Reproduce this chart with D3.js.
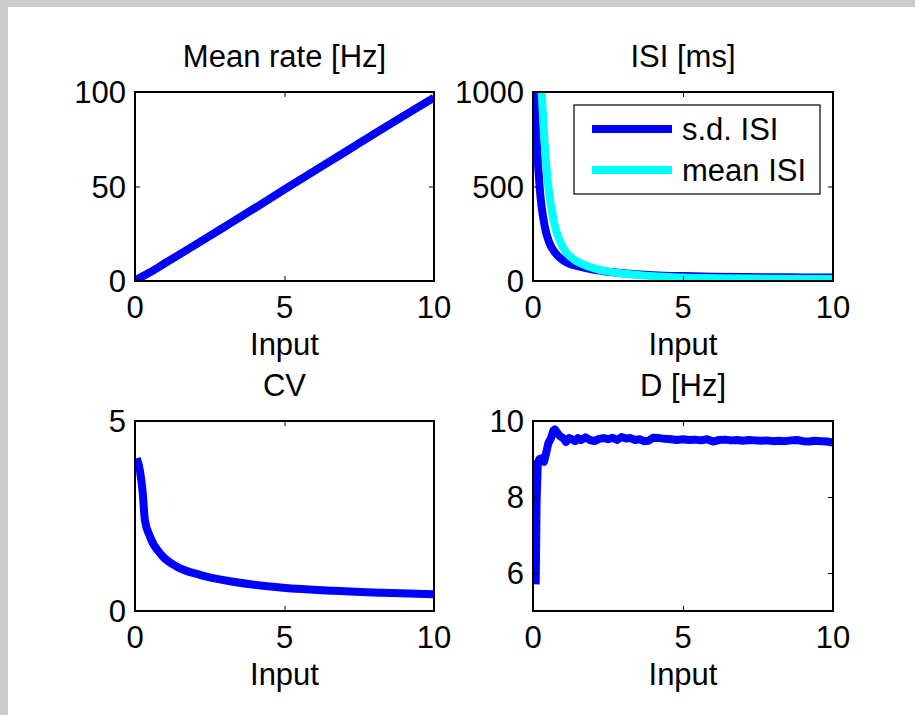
<!DOCTYPE html>
<html>
<head>
<meta charset="utf-8">
<script src="https://cdn.jsdelivr.net/npm/d3@7"></script>
<style>
  html, body { margin: 0; padding: 0; background: #fff; }
  svg text { font-family: "Liberation Sans", Arial, Helvetica, sans-serif; fill: #000; }
</style>
</head>
<body>
<svg id="fig" width="915" height="715"></svg>
<script>

// ---- data ----
const rateInput = [0, 0.5, 1, 2, 3, 4, 5, 6, 7, 8, 9, 10];
const rateHz = [0.3, 4.6, 9.4, 19, 28.7, 38.5, 48.5, 58.3, 68, 77.8, 87.5, 97];

const sdIsiInput = [0.03, 0.06, 0.14, 0.22, 0.39, 0.55, 0.73, 1.0, 1.17, 1.5, 2.0, 2.44, 3, 4, 5, 6, 7, 8, 9, 10];
const sdIsiMs = [1400, 1000, 700, 500, 290, 200, 151, 110, 95, 78, 60, 50, 41, 31, 26, 23, 21, 20, 19, 18];

const meanIsiInput = [0.2, 0.29, 0.4, 0.51, 0.62, 0.73, 0.9, 1.11, 1.35, 1.67, 2.2, 2.78, 3.5, 4.67, 6, 8, 10];
const meanIsiMs = [1300, 1000, 700, 500, 380, 290, 210, 151, 115, 88, 60, 44, 32, 20, 15, 12, 10];

const cvInput = [0.06, 0.17, 0.26, 0.33, 0.5, 0.89, 1.39, 2.17, 3.28, 4.95, 6.6, 8.3, 10];
const cvValue = [4.02, 3.67, 3.1, 2.39, 1.96, 1.47, 1.17, 0.95, 0.77, 0.61, 0.53, 0.48, 0.44];

const dInput = [0.09, 0.12, 0.16, 0.22, 0.29, 0.37, 0.45, 0.51, 0.6, 0.68, 0.73, 0.8, 0.9,
  1.0, 1.1, 1.2, 1.3, 1.4, 1.5, 1.6, 1.75, 1.9, 2.05, 2.2, 2.35, 2.5, 2.65, 2.8, 2.95,
  3.1, 3.25, 3.4, 3.55, 3.7, 3.85, 4.0, 4.2, 4.4, 4.6, 4.8, 5.0, 5.2, 5.4, 5.6, 5.8,
  6.0, 6.2, 6.4, 6.6, 6.8, 7.0, 7.2, 7.4, 7.6, 7.8, 8.0, 8.2, 8.4, 8.6, 8.8, 9.0,
  9.2, 9.4, 9.6, 9.8, 10.0];
const dHz = [5.7, 7.9, 8.9, 9.0, 9.02, 8.93, 9.2, 9.41, 9.55, 9.75, 9.78, 9.7, 9.6,
  9.55, 9.45, 9.55, 9.52, 9.47, 9.55, 9.5, 9.57, 9.5, 9.47, 9.53, 9.55, 9.52, 9.56, 9.5, 9.58,
  9.54, 9.55, 9.5, 9.52, 9.47, 9.48, 9.56, 9.55, 9.53, 9.52, 9.5, 9.52, 9.5, 9.51, 9.49, 9.52,
  9.46, 9.5, 9.51, 9.49, 9.5, 9.48, 9.5, 9.49, 9.48, 9.49, 9.47, 9.48, 9.47, 9.49, 9.5, 9.47,
  9.46, 9.48, 9.47, 9.46, 9.43];

const xTicks = [0, 5, 10];
const titles = ['Mean rate [Hz]', 'ISI [ms]', 'CV', 'D [Hz]'];
const legendLabels = ['s.d. ISI', 'mean ISI'];

const BLUE = '#0000ff';
const CYAN = '#00ffff';
const FONT = 31;
const LW = 8;

const zip = (xs, ys) => xs.map((x, i) => [x, ys[i]]);

const panels = [
  {title: titles[0], box: [135, 434, 92, 281], yDomain: [0, 100], yTicks: [0, 50, 100],
   series: [{pts: zip(rateInput, rateHz), color: BLUE}], smooth: true},
  {title: titles[1], box: [533, 833, 92, 281], yDomain: [0, 1000], yTicks: [0, 500, 1000],
   series: [{pts: zip(sdIsiInput, sdIsiMs), color: BLUE, label: legendLabels[0]},
            {pts: zip(meanIsiInput, meanIsiMs), color: CYAN, label: legendLabels[1]}],
   legend: true, smooth: true},
  {title: titles[2], box: [135, 434, 421, 611], yDomain: [0, 5], yTicks: [0, 5],
   series: [{pts: zip(cvInput, cvValue), color: BLUE}], smooth: true},
  {title: titles[3], box: [533, 833, 421, 611], yDomain: [5, 10], yTicks: [6, 8, 10],
   series: [{pts: zip(dInput, dHz), color: BLUE}], smooth: false}
];


const svg = d3.select('#fig');

// gray figure frame (published page edge)
svg.append('rect').attr('width', 915).attr('height', 715).attr('fill', '#cccccc');
svg.append('rect').attr('x', 8).attr('y', 7).attr('width', 907).attr('height', 708).attr('fill', '#fff');


function drawPanel(selection, p, i) {
  const [x0, x1, y0, y1] = p.box;
  const x = d3.scaleLinear().domain([0, 10]).range([x0, x1]);
  const y = d3.scaleLinear().domain(p.yDomain).range([y1, y0]);
  const g = selection.append('g').attr('class', 'panel');

  const clipId = `clip${i}`;
  g.append('clipPath').attr('id', clipId)
    .append('rect')
      .attr('x', x0).attr('y', y0)
      .attr('width', x1 - x0).attr('height', y1 - y0);

  const line = d3.line()
    .x(d => x(d[0]))
    .y(d => y(d[1]))
    .curve(p.smooth ? d3.curveMonotoneX : d3.curveLinear);
  g.append('g')
      .attr('clip-path', `url(#${clipId})`)
    .selectAll('path')
    .data(p.series)
    .join('path')
      .attr('d', d => line(d.pts))
      .attr('fill', 'none')
      .attr('stroke', d => d.color)
      .attr('stroke-width', LW)
      .attr('stroke-linejoin', 'round');

  // box with inward ticks on all four sides
  const tick = 5;
  const axisStyle = a => {
    a.select('.domain').remove();
    a.selectAll('line').attr('stroke', '#000');
    a.selectAll('text').remove();
  };
  g.append('g').attr('transform', `translate(0,${y1})`)
    .call(d3.axisTop(x).tickValues(xTicks).tickSize(tick)).call(axisStyle);
  g.append('g').attr('transform', `translate(0,${y0})`)
    .call(d3.axisBottom(x).tickValues(xTicks).tickSize(tick)).call(axisStyle);
  g.append('g').attr('transform', `translate(${x0},0)`)
    .call(d3.axisRight(y).tickValues(p.yTicks).tickSize(tick)).call(axisStyle);
  g.append('g').attr('transform', `translate(${x1},0)`)
    .call(d3.axisLeft(y).tickValues(p.yTicks).tickSize(tick)).call(axisStyle);

  g.append('rect')
      .attr('x', x0).attr('y', y0)
      .attr('width', x1 - x0).attr('height', y1 - y0)
      .attr('fill', 'none')
      .attr('stroke', '#000')
      .attr('stroke-width', 1.2)
      .attr('shape-rendering', 'crispEdges');

  // tick labels
  g.selectAll('.xlab')
    .data(xTicks)
    .join('text')
      .attr('class', 'xlab')
      .attr('x', d => x(d))
      .attr('y', y1 + 37)
      .attr('text-anchor', 'middle')
      .attr('font-size', FONT)
      .text(d => d);
  g.selectAll('.ylab')
    .data(p.yTicks)
    .join('text')
      .attr('class', 'ylab')
      .attr('x', x0 - 9)
      .attr('y', d => y(d) + 11)
      .attr('text-anchor', 'end')
      .attr('font-size', FONT)
      .text(d => d);

  g.append('text')
      .attr('x', (x0 + x1) / 2)
      .attr('y', y1 + 74)
      .attr('text-anchor', 'middle')
      .attr('font-size', FONT)
      .text('Input');
  g.append('text')
      .attr('x', (x0 + x1) / 2)
      .attr('y', y0 - 25)
      .attr('text-anchor', 'middle')
      .attr('font-size', FONT)
      .text(p.title);

  if (p.legend) {
    const lg = g.append('g').attr('class', 'legend');
    lg.append('rect')
        .attr('x', 574).attr('y', 105)
        .attr('width', 246).attr('height', 89)
        .attr('fill', '#fff')
        .attr('stroke', '#000')
        .attr('stroke-width', 1.2);
    const items = lg.selectAll('.item')
      .data(p.series)
      .join('g')
        .attr('class', 'item')
        .attr('transform', (d, k) => `translate(0,${129 + k * 41})`);
    items.append('line')
        .attr('x1', 592).attr('x2', 672)
        .attr('stroke', d => d.color)
        .attr('stroke-width', LW);
    items.append('text')
        .attr('x', 682)
        .attr('y', 11)
        .attr('font-size', FONT)
        .text(d => d.label);
  }
}

panels.forEach((p, i) => svg.call(drawPanel, p, i));

</script>
</body>
</html>
